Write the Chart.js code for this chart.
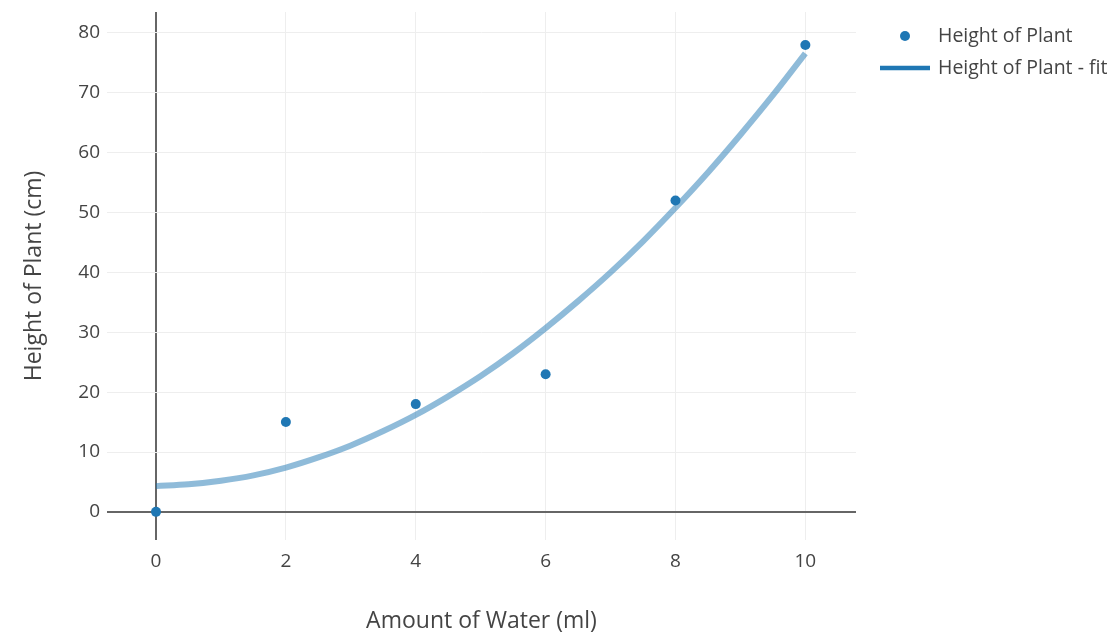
<!DOCTYPE html>
<html>
<head>
<meta charset="utf-8">
<title>Height of Plant</title>
<script src="https://cdn.jsdelivr.net/npm/chart.js@4/dist/chart.umd.min.js"></script>
<style>
  body { margin: 0; background: #fff; }
</style>
</head>
<body>
<canvas id="myChart" width="1120" height="635"></canvas>
<script>
'use strict';

// measured points
var waterAmounts = [0, 2, 4, 6, 8, 10];
var plantHeights = [0, 15, 18, 23, 52, 78];

// fit curve, every 0.5 ml
var fitWater = [0, 0.5, 1, 1.5, 2, 2.5, 3, 3.5, 4, 4.5, 5, 5.5, 6, 6.5, 7, 7.5, 8, 8.5, 9, 9.5, 10];
var fitHeights = [4.3, 4.6, 5.2, 6.1, 7.4, 9.1, 11.1, 13.5, 16.2, 19.3, 22.7, 26.5, 30.7, 35.2, 40.0, 45.2, 50.8, 56.7, 63.0, 69.6, 76.6];

var xTicks = [0, 2, 4, 6, 8, 10];
var yTicks = [0, 10, 20, 30, 40, 50, 60, 70, 80];

var seriesNames = ['Height of Plant', 'Height of Plant - fit'];

var blue = '#1f77b4';
var fontFamily = '"Open Sans", "Noto Sans", sans-serif';

function toPoints(xs, ys) {
  return xs.map(function (x, i) { return { x: x, y: ys[i] }; });
}

// legend drawn to the right of the plot
var sideLegend = {
  id: 'sideLegend',
  afterDraw: function (chart) {
    var c = chart.ctx;
    var left = chart.chartArea.right;
    c.save();
    c.font = '19.5px ' + fontFamily;
    c.textBaseline = 'middle';
    c.textAlign = 'left';

    c.beginPath();
    c.arc(left + 49, 36, 5, 0, Math.PI * 2);
    c.fillStyle = blue;
    c.fill();
    c.fillStyle = '#444';
    c.fillText(seriesNames[0], left + 82, 36);

    c.beginPath();
    c.moveTo(left + 24, 68);
    c.lineTo(left + 74, 68);
    c.strokeStyle = blue;
    c.lineWidth = 4.5;
    c.stroke();
    c.fillText(seriesNames[1], left + 82, 68);
    c.restore();
  }
};

var ctx = document.getElementById('myChart').getContext('2d');

var myChart = new Chart(ctx, {
  type: 'scatter',
  data: {
    datasets: [{
      label: seriesNames[0],
      data: toPoints(waterAmounts, plantHeights),
      backgroundColor: blue,
      borderColor: blue,
      pointRadius: 5,
      pointBorderWidth: 0,
      showLine: false,
      order: 0
    }, {
      label: seriesNames[1],
      data: toPoints(fitWater, fitHeights),
      borderColor: 'rgba(31, 119, 180, 0.5)',
      borderWidth: 6,
      pointRadius: 0,
      showLine: true,
      cubicInterpolationMode: 'monotone',
      order: 1
    }]
  },
  options: {
    responsive: false,
    animation: false,
    layout: { padding: { top: 12, right: 264, left: 0, bottom: 0 } },
    plugins: {
      legend: { display: false },
      tooltip: { enabled: false }
    },
    scales: {
      x: {
        type: 'linear',
        min: -0.755,
        max: 10.78,
        afterBuildTicks: function (scale) {
          scale.ticks = xTicks.map(function (v) { return { value: v }; });
        },
        afterFit: function (scale) {
          scale.height = 95;
          scale.paddingLeft = 0;
          scale.paddingRight = 0;
        },
        border: { display: false },
        grid: {
          drawTicks: false,
          color: function (c) { return c.tick && c.tick.value === 0 ? '#666' : '#eee'; },
          lineWidth: function (c) { return c.tick && c.tick.value === 0 ? 2 : 1; }
        },
        ticks: {
          padding: 10,
          color: '#444',
          font: { family: fontFamily, size: 19 }
        },
        title: {
          display: true,
          text: 'Amount of Water (ml)',
          color: '#444',
          font: { family: fontFamily, size: 23 },
          padding: { top: 0, bottom: 0 }
        }
      },
      y: {
        type: 'linear',
        min: -4.7,
        max: 83.5,
        afterBuildTicks: function (scale) {
          scale.ticks = yTicks.map(function (v) { return { value: v }; });
        },
        afterFit: function (scale) {
          scale.width = 107;
          scale.paddingTop = 0;
          scale.paddingBottom = 0;
        },
        border: { display: false },
        grid: {
          drawTicks: false,
          color: function (c) { return c.tick && c.tick.value === 0 ? '#666' : '#eee'; },
          lineWidth: function (c) { return c.tick && c.tick.value === 0 ? 2 : 1; }
        },
        ticks: {
          padding: 7,
          color: '#444',
          font: { family: fontFamily, size: 19 }
        },
        title: {
          display: true,
          text: 'Height of Plant (cm)',
          color: '#444',
          font: { family: fontFamily, size: 23 },
          padding: { top: 21, bottom: 0 }
        }
      }
    }
  },
  plugins: [sideLegend]
});
</script>
</body>
</html>
